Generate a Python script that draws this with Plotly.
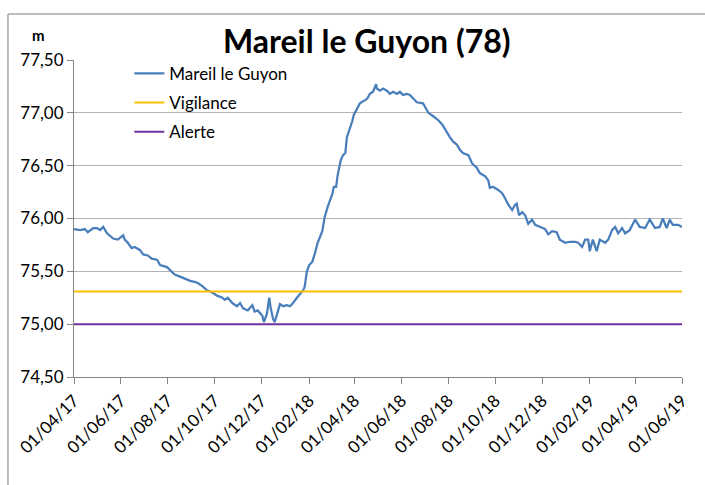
import plotly.graph_objects as go

dates = [
    "2017-04-01", "2017-04-09", "2017-04-15", "2017-04-19", "2017-04-26", "2017-05-01", "2017-05-05",
    "2017-05-09", "2017-05-14", "2017-05-18", "2017-05-22", "2017-05-28", "2017-06-04", "2017-06-06",
    "2017-06-10", "2017-06-15", "2017-06-19", "2017-06-26", "2017-06-30", "2017-07-06", "2017-07-11",
    "2017-07-18", "2017-07-22", "2017-07-31", "2017-08-06", "2017-08-10", "2017-08-17", "2017-08-23",
    "2017-08-30", "2017-09-05", "2017-09-09", "2017-09-15", "2017-09-21", "2017-09-28", "2017-10-04",
    "2017-10-11", "2017-10-14", "2017-10-18", "2017-10-24", "2017-10-30", "2017-11-03", "2017-11-07",
    "2017-11-13", "2017-11-19", "2017-11-22", "2017-11-26", "2017-12-02", "2017-12-04", "2017-12-08",
    "2017-12-11", "2017-12-13", "2017-12-16", "2017-12-18", "2017-12-21", "2017-12-25", "2017-12-29",
    "2018-01-03", "2018-01-07", "2018-01-11", "2018-01-16", "2018-01-20", "2018-01-24", "2018-01-26",
    "2018-01-29", "2018-02-01", "2018-02-05", "2018-02-08", "2018-02-12", "2018-02-18", "2018-02-21",
    "2018-02-25", "2018-03-03", "2018-03-05", "2018-03-08", "2018-03-10", "2018-03-14", "2018-03-17",
    "2018-03-20", "2018-03-22", "2018-03-23", "2018-03-26", "2018-03-29", "2018-03-31", "2018-04-04",
    "2018-04-08", "2018-04-12", "2018-04-15", "2018-04-18", "2018-04-21", "2018-04-25", "2018-04-29",
    "2018-04-30", "2018-05-04", "2018-05-08", "2018-05-13", "2018-05-17", "2018-05-21", "2018-05-26",
    "2018-05-30", "2018-06-03", "2018-06-08", "2018-06-12", "2018-06-16", "2018-06-21", "2018-06-29",
    "2018-07-06", "2018-07-12", "2018-07-19", "2018-07-24", "2018-07-30", "2018-08-03", "2018-08-07",
    "2018-08-12", "2018-08-16", "2018-08-20", "2018-08-27", "2018-09-01", "2018-09-07", "2018-09-11",
    "2018-09-18", "2018-09-22", "2018-09-24", "2018-09-28", "2018-10-05", "2018-10-10", "2018-10-14",
    "2018-10-18", "2018-10-23", "2018-10-27", "2018-10-29", "2018-11-01", "2018-11-05", "2018-11-09",
    "2018-11-13", "2018-11-18", "2018-11-22", "2018-11-28", "2018-12-05", "2018-12-09", "2018-12-14",
    "2018-12-20", "2018-12-24", "2018-12-31", "2019-01-06", "2019-01-13", "2019-01-17", "2019-01-22",
    "2019-01-26", "2019-01-30", "2019-02-01", "2019-02-05", "2019-02-10", "2019-02-14", "2019-02-21",
    "2019-02-25", "2019-03-02", "2019-03-06", "2019-03-10", "2019-03-15", "2019-03-19", "2019-03-25",
    "2019-04-01", "2019-04-07", "2019-04-14", "2019-04-20", "2019-04-27", "2019-05-03", "2019-05-07",
    "2019-05-12", "2019-05-16", "2019-05-20", "2019-05-27", "2019-06-01",
]

levels = [
    75.90, 75.89, 75.90, 75.87, 75.91, 75.91, 75.89,
    75.92, 75.86, 75.83, 75.81, 75.80, 75.84, 75.80,
    75.77, 75.72, 75.73, 75.70, 75.66, 75.65, 75.62,
    75.61, 75.56, 75.54, 75.50, 75.47, 75.45, 75.43,
    75.41, 75.40, 75.39, 75.36, 75.32, 75.30, 75.27,
    75.25, 75.23, 75.25, 75.20, 75.17, 75.20, 75.15,
    75.13, 75.18, 75.12, 75.13, 75.08, 75.02, 75.10,
    75.25, 75.15, 75.05, 75.02, 75.09, 75.19, 75.17,
    75.18, 75.17, 75.20, 75.25, 75.28, 75.32, 75.35,
    75.50, 75.56, 75.59, 75.66, 75.77, 75.88, 76.01,
    76.11, 76.23, 76.30, 76.30, 76.41, 76.55, 76.60,
    76.62, 76.77, 76.79, 76.87, 76.92, 76.98, 77.03,
    77.09, 77.11, 77.12, 77.14, 77.18, 77.20, 77.27,
    77.23, 77.21, 77.23, 77.21, 77.18, 77.20, 77.18,
    77.20, 77.17, 77.18, 77.17, 77.14, 77.10, 77.09,
    77.00, 76.97, 76.93, 76.89, 76.81, 76.77, 76.73,
    76.70, 76.65, 76.62, 76.60, 76.52, 76.48, 76.43,
    76.40, 76.36, 76.29, 76.30, 76.27, 76.24, 76.19,
    76.13, 76.08, 76.13, 76.14, 76.03, 76.06, 76.03,
    75.95, 75.99, 75.94, 75.92, 75.90, 75.85, 75.88,
    75.87, 75.80, 75.77, 75.78, 75.78, 75.77, 75.73,
    75.80, 75.80, 75.69, 75.80, 75.69, 75.80, 75.77,
    75.80, 75.89, 75.92, 75.86, 75.91, 75.86, 75.89,
    75.99, 75.92, 75.91, 75.99, 75.91, 75.92, 76.00,
    75.91, 75.99, 75.94, 75.94, 75.92,
]

threshold_dates = ["2017-04-01", "2019-06-01"]
vigilance = [75.31, 75.31]
alerte = [75.00, 75.00]

tick_dates = [
    "2017-04-01", "2017-06-01", "2017-08-01", "2017-10-01", "2017-12-01", "2018-02-01", "2018-04-01",
    "2018-06-01", "2018-08-01", "2018-10-01", "2018-12-01", "2019-02-01", "2019-04-01", "2019-06-01",
]
tick_labels = [
    "01/04/17", "01/06/17", "01/08/17", "01/10/17", "01/12/17", "01/02/18", "01/04/18",
    "01/06/18", "01/08/18", "01/10/18", "01/12/18", "01/02/19", "01/04/19", "01/06/19",
]
y_ticks = [74.5, 75.0, 75.5, 76.0, 76.5, 77.0, 77.5]

FONT = "Lato, 'DejaVu Sans', sans-serif"

fig = go.Figure()
fig.add_trace(go.Scatter(x=dates, y=levels, mode="lines", name="Mareil le Guyon",
                         line=dict(color="#4A7EBB", width=2.25), legendgroup="a"))
fig.add_trace(go.Scatter(x=threshold_dates, y=vigilance, mode="lines", name="Vigilance",
                         line=dict(color="#FFC000", width=2), legendgroup="b"))
fig.add_trace(go.Scatter(x=threshold_dates, y=alerte, mode="lines", name="Alerte",
                         line=dict(color="#7030A0", width=2), legendgroup="c"))

fig.update_layout(
    width=705, height=485,
    margin=dict(l=74, r=23, t=60, b=108),
    paper_bgcolor="white", plot_bgcolor="white",
    separators=", ",
    font=dict(family=FONT, size=17, color="black"),
    showlegend=True,
    legend=dict(x=0.091, y=1.013, xanchor="left", yanchor="top", bgcolor="rgba(0,0,0,0)",
                font=dict(size=17), traceorder="grouped", tracegroupgap=4),
    xaxis=dict(type="date", range=["2017-04-01", "2019-06-01"], tickmode="array",
               tickvals=tick_dates, ticktext=tick_labels, tickangle=-45,
               showgrid=False, showline=True, linecolor="#868686", linewidth=1,
               ticks="outside", ticklen=6, tickcolor="#868686", zeroline=False),
    yaxis=dict(range=[74.5, 77.5], tickmode="array", tickvals=y_ticks, tickformat=".2f",
               showgrid=True, gridcolor="#b3b3b3", gridwidth=1,
               showline=True, linecolor="#868686", linewidth=1,
               ticks="outside", ticklen=6, tickcolor="#868686", zeroline=False),
    annotations=[
        dict(text="<b>Mareil le Guyon (78)</b>", xref="paper", yref="paper", x=0.482, y=1.063,
             xanchor="center", yanchor="middle", showarrow=False, font=dict(size=32, family=FONT)),
        dict(text="<b>m</b>", xref="paper", yref="paper", x=-0.0592, y=1.079,
             xanchor="center", yanchor="middle", showarrow=False, font=dict(size=15, family=FONT)),
    ],
    shapes=[
        dict(type="line", xref="paper", yref="paper", x0=-0.1086, x1=1.1, y0=1.145, y1=1.145,
             line=dict(color="#a6a6a6", width=1.5)),
        dict(type="line", xref="paper", yref="paper", x0=-0.1086, x1=-0.1086, y0=1.145, y1=-0.4,
             line=dict(color="#a6a6a6", width=1.5)),
    ],
)

fig.write_html("out.html", config={"displayModeBar": False},
               post_script="document.body.style.margin='0';document.body.style.overflow='hidden';")
